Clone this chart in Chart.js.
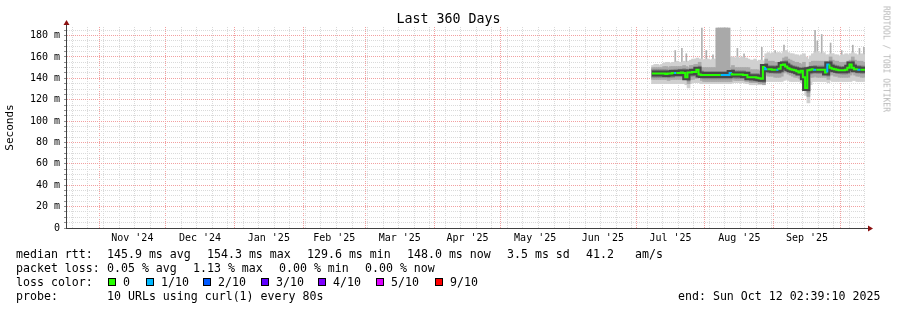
<!DOCTYPE html>
<html>
<head>
<meta charset="utf-8">
<script src="https://cdn.jsdelivr.net/npm/chart.js@4.4.1/dist/chart.umd.min.js"></script>
<style>
  body { margin: 0; background: #fff; }
  #wrap { position: relative; width: 897px; height: 310px; font-family: 'DejaVu Sans Mono', monospace; color: #000; overflow: hidden; }
  #wrap canvas { position: absolute; left: 0; top: 0; }
  .t { position: absolute; white-space: pre; font-size: 11.6px; line-height: 14px; }
  .sq { position: absolute; width: 8px; height: 8px; box-sizing: border-box; border: 1px solid #000; }
  #title { position: absolute; left: 0; width: 897px; top: 11px; text-align: center; font-size: 13.3px; line-height: 16px; }
  #mark { position: absolute; left: 886px; top: 59px; font-size: 8px; line-height: 9px; color: #b8b8b8; white-space: pre; transform: translate(-50%, -50%) rotate(90deg); }
</style>
</head>
<body>
<div id="wrap">
  <canvas id="myChart" width="897" height="310"></canvas>
  <div id="title">Last 360 Days</div>
  <div id="mark">RRDTOOL / TOBI OETIKER</div>
  <div id="footer"></div>
</div>
<script>
// graph window: 360 days ending Sun Oct 12 02:39:10 2025
const startTime = Date.UTC( 2024, 9, 17, 2, 39, 10 )
const totalDays = 360

// x axis tick labels (placed mid month) and month starts (red grid)
const monthLabels = [ "Nov '24", "Dec '24", "Jan '25", "Feb '25", "Mar '25", "Apr '25", "May '25", "Jun '25", "Jul '25", "Aug '25", "Sep '25" ]
const monthStarts = [ '2024-11-01', '2024-12-01', '2025-01-01', '2025-02-01', '2025-03-01', '2025-04-01', '2025-05-01', '2025-06-01', '2025-07-01', '2025-08-01', '2025-09-01', '2025-10-01' ]
const firstWeekLine = '2024-10-20'

// data, one value per day starting at day 264 of the window
const firstDay = 264
const median = [
  144.5, 144.5, 144.5, 144.5, 144.5, 144.5, 144.5, 144, 144.5, 144.5,
  145, 145, 145, 145, 145.5, 145, 141, 145.5, 145.5, 146,
  146, 148, 143.5, 143, 143, 143, 143, 143, 143, 143,
  143, 143, 143, 143, 143, 143, 145, 143.5, 143.5, 143.5,
  143.5, 143.5, 143, 143, 141, 141, 141, 141, 140.5, 140,
  139.5, 150.5, 148.5, 148.5, 148.5, 148, 148, 148, 149, 152.5,
  153, 151, 149.5, 148.5, 148, 147.5, 146.5, 145.5, 147, 141,
  131, 147.5, 148, 148.5, 148, 148, 148, 148, 148, 145.5,
  153, 150, 149, 148.5, 148, 147.5, 147.5, 147.5, 148, 150,
  153, 150, 148.5, 148.5, 148, 148
]
// packet loss per day, in tenths (0 = none, 1 = 1/10)
const loss = [
  0, 0, 0, 0, 0, 0, 0, 0, 0, 0,
  1, 0, 0, 0, 0, 0, 0, 0, 0, 0,
  0, 0, 0, 0, 0, 0, 0, 0, 0, 0,
  0, 1, 1, 1, 1, 1, 0, 0, 0, 0,
  0, 0, 0, 0, 0, 0, 0, 0, 0, 0,
  0, 1, 0, 0, 0, 0, 1, 0, 0, 0,
  0, 0, 0, 0, 0, 0, 0, 0, 0, 0,
  0, 0, 0, 1, 0, 0, 0, 0, 0, 1,
  0, 0, 0, 0, 0, 0, 0, 0, 0, 0,
  0, 0, 0, 1, 0, 0
]
// outer smoke (lightest)
const smokeHigh1 = [
  152, 153, 153, 152, 153, 154, 155, 155, 154, 155,
  155, 156, 155, 155, 156, 155, 156, 157, 158, 158,
  159, 158, 158, 157, 158, 158, 157, 158, 158, 187,
  187, 187, 187, 187, 187, 160, 160, 159, 160, 159,
  160, 159, 159, 158, 157, 157, 158, 156, 157, 157,
  156, 163, 164, 163, 164, 163, 164, 164, 163, 165,
  166, 164, 163, 163, 162, 162, 161, 162, 163, 160,
  158, 161, 163, 164, 165, 164, 163, 164, 162, 162,
  163, 163, 162, 162, 161, 162, 162, 163, 162, 163,
  164, 163, 162, 162, 163, 162
]
const smokeLow1 = [
  135, 135, 135, 135, 135, 135, 135, 135, 135, 135,
  135, 135, 135, 135, 135, 134, 131, 135, 136, 136,
  136, 136, 135, 135, 135, 135, 135, 135, 135, 135,
  135, 135, 135, 135, 135, 135, 136, 136, 136, 136,
  136, 136, 135, 135, 134, 134, 134, 134, 134, 134,
  134, 137, 137, 137, 137, 137, 137, 137, 137, 138,
  139, 138, 137, 137, 137, 137, 137, 136, 137, 124,
  117, 134, 137, 137, 137, 137, 137, 137, 137, 136,
  138, 137, 137, 137, 137, 137, 137, 137, 137, 137,
  138, 138, 137, 137, 137, 137
]
// middle smoke
const smokeHigh2 = [
  150, 150, 150, 150, 150, 151, 151, 150, 151, 151,
  151, 151, 151, 151, 152, 151, 150, 152, 152, 153,
  153, 155, 150, 150, 150, 150, 150, 150, 150, 187,
  187, 187, 187, 187, 187, 150, 152, 150, 150, 150,
  150, 150, 150, 150, 148, 148, 148, 148, 147, 147,
  146, 158, 156, 156, 156, 155, 155, 155, 156, 159,
  160, 158, 157, 156, 155, 155, 154, 153, 155, 150,
  145, 155, 156, 156, 156, 156, 156, 156, 156, 155,
  160, 157, 156, 156, 155, 155, 155, 155, 156, 157,
  160, 157, 156, 156, 156, 155
]
const smokeLow2 = [
  139, 139, 139, 139, 139, 139, 139, 138, 139, 139,
  139, 139, 139, 139, 139, 139, 135, 139, 139, 140,
  140, 141, 138, 137, 137, 137, 137, 137, 137, 137,
  137, 137, 137, 137, 137, 137, 139, 138, 138, 138,
  138, 138, 137, 137, 136, 136, 136, 136, 135, 135,
  134, 143, 142, 142, 142, 141, 141, 141, 142, 145,
  146, 144, 143, 142, 141, 141, 140, 139, 140, 130,
  123, 141, 141, 142, 141, 141, 141, 141, 141, 139,
  145, 143, 142, 142, 141, 141, 141, 141, 141, 143,
  145, 143, 142, 142, 141, 141
]
// inner smoke
const smokeHigh3 = [
  148, 148, 148, 148, 148, 148, 148, 147.5, 148, 148,
  148.5, 148.5, 148.5, 148.5, 149, 148.5, 145, 149, 149, 149.5,
  149.5, 151.5, 147, 146.5, 146.5, 146.5, 146.5, 146.5, 146.5, 146.5,
  146.5, 146.5, 146.5, 146.5, 146.5, 146.5, 148.5, 147, 147, 147,
  147, 147, 146.5, 146.5, 144.5, 144.5, 144.5, 144.5, 144, 143.5,
  143, 154, 152, 152, 152, 151.5, 151.5, 151.5, 152.5, 156,
  156.5, 154.5, 153, 152, 151.5, 151, 150, 149, 150.5, 146,
  137, 151, 151.5, 152, 151.5, 151.5, 151.5, 151.5, 151.5, 149,
  156.5, 153.5, 152.5, 152, 151.5, 151, 151, 151, 151.5, 153.5,
  156.5, 153.5, 152, 152, 151.5, 151.5
]
const smokeLow3 = [
  141, 141, 141, 141, 141, 141, 141, 140.5, 141, 141,
  141.5, 141.5, 141.5, 141.5, 142, 141.5, 137.5, 142, 142, 142.5,
  142.5, 144.5, 140, 139.5, 139.5, 139.5, 139.5, 139.5, 139.5, 139.5,
  139.5, 139.5, 139.5, 139.5, 139.5, 139.5, 141.5, 140, 140, 140,
  140, 140, 139.5, 139.5, 137.5, 137.5, 137.5, 137.5, 137, 136.5,
  136, 147, 145, 145, 145, 144.5, 144.5, 144.5, 145.5, 149,
  149.5, 147.5, 146, 145, 144.5, 144, 143, 142, 143.5, 135,
  127, 144, 144.5, 145, 144.5, 144.5, 144.5, 144.5, 144.5, 142,
  149.5, 146.5, 145.5, 145, 144.5, 144, 144, 144, 144.5, 146.5,
  149.5, 146.5, 145, 145, 144.5, 144.5
]
// single slow pings above the smoke
const peakDays = [ 274, 277, 279, 286, 288, 291, 302, 305, 313, 319, 323, 337, 338, 340, 344, 349, 354, 357, 359 ]
const peakValues = [ 166, 168, 163, 187, 166, 162, 168, 163, 169, 166, 171, 185, 175, 181, 173, 166, 171, 168, 169 ]

const lossColors = [ '#26ff00', '#00b8ff', '#0059ff', '#5e00ff', '#7e00ff', '#dd00ff', '#ff0000' ]
const lossLabels = [ '0', '1/10', '2/10', '3/10', '4/10', '5/10', '9/10' ]

const RED = '#f2a0a0'
const GRAY = '#dadada'
const FONT = 'DejaVu Sans Mono'

const dayOf = ( s ) => ( Date.parse( s + 'T00:00:00Z' ) - startTime ) / 86400000

// x ticks: week lines, month lines, mid month labels
const xTicks = []
for ( let d = dayOf( firstWeekLine ); d < totalDays; d += 7 ) xTicks.push( { value: d, kind: 'week' } )
monthStarts.forEach( ( s, i ) => {
  const d = dayOf( s )
  xTicks.push( { value: d, kind: 'month' } )
  if ( i < monthLabels.length ) {
    const mid = ( d + dayOf( monthStarts[i + 1] ) ) / 2
    xTicks.push( { value: mid, kind: 'label', label: monthLabels[i] } )
  }
} )
xTicks.sort( ( a, b ) => a.value - b.value )

const band = ( lows, highs ) => lows.map( ( lo, i ) => ( { x: firstDay + i + 0.5, y: [ lo, highs[i] ] } ) )
const stepLine = median.map( ( v, i ) => ( { x: firstDay + i, y: v } ) )
stepLine.push( { x: firstDay + median.length, y: median[median.length - 1] } )
const peaks = peakDays.map( ( d, i ) => ( { x: d + 0.5, y: [ smokeHigh1[d - firstDay], peakValues[i] ] } ) )

const smoke = ( data, color, order ) => ( {
  type: 'bar', data, backgroundColor: color, borderWidth: 0,
  grouped: false, barThickness: 3, order
} )

// axis arrows like rrdtool
const arrows = {
  id: 'arrows',
  afterDraw( chart ) {
    const { ctx, chartArea: a } = chart
    ctx.save()
    ctx.strokeStyle = '#404040'
    ctx.lineWidth = 1
    ctx.beginPath()
    ctx.moveTo( a.left + 0.5, a.top ); ctx.lineTo( a.left + 0.5, a.top - 4 )
    ctx.moveTo( a.right, a.bottom + 0.5 ); ctx.lineTo( a.right + 5, a.bottom + 0.5 )
    ctx.stroke()
    ctx.fillStyle = '#8b1010'
    ctx.beginPath()
    ctx.moveTo( a.left - 2.5, a.top - 2 ); ctx.lineTo( a.left + 3.5, a.top - 2 ); ctx.lineTo( a.left + 0.5, a.top - 7 )
    ctx.closePath(); ctx.fill()
    ctx.beginPath()
    ctx.moveTo( a.right + 3, a.bottom - 2.5 ); ctx.lineTo( a.right + 3, a.bottom + 3.5 ); ctx.lineTo( a.right + 8, a.bottom + 0.5 )
    ctx.closePath(); ctx.fill()
    ctx.restore()
  }
}

new Chart( document.getElementById( 'myChart' ), {
  type: 'bar',
  data: {
    datasets: [
      {
        type: 'line', data: stepLine, stepped: 'after', pointRadius: 0, borderWidth: 2,
        borderColor: lossColors[0],
        segment: { borderColor: ( c ) => lossColors[loss[Math.min( c.p0DataIndex, loss.length - 1 )]] },
        order: 0
      },
      { type: 'line', data: stepLine, stepped: 'after', pointRadius: 0, borderWidth: 6, borderColor: '#484848', order: 1 },
      smoke( band( smokeLow3, smokeHigh3 ), '#868686', 2 ),
      smoke( band( smokeLow2, smokeHigh2 ), '#a9a9a9', 3 ),
      smoke( band( smokeLow1, smokeHigh1 ), '#d0d0d0', 4 ),
      { type: 'bar', data: peaks, backgroundColor: '#b0b0b0', borderWidth: 0, grouped: false, barThickness: 1, order: 5 }
    ]
  },
  options: {
    responsive: false,
    animation: false,
    layout: { padding: { top: 27, right: 32, bottom: 0, left: 0 } },
    plugins: { legend: { display: false }, tooltip: { enabled: false } },
    scales: {
      x: {
        type: 'linear', min: 0, max: totalDays, offset: false,
        afterFit: ( s ) => { s.height = 82 },
        afterBuildTicks: ( s ) => { s.ticks = xTicks.map( ( t ) => ( { value: t.value } ) ) },
        grid: {
          offset: false, drawTicks: false,
          color: ( c ) => {
            const t = xTicks[c.index]
            if ( !t || t.kind === 'label' ) return 'rgba(0,0,0,0)'
            return t.kind === 'month' ? RED : GRAY
          }
        },
        border: { color: '#404040', dash: [ 1, 1 ] },
        ticks: {
          autoSkip: false, maxRotation: 0, minRotation: 0, padding: 4,
          color: '#000', font: { family: FONT, size: 10 },
          callback: ( v, i ) => ( xTicks[i] && xTicks[i].label ) || ''
        }
      },
      y: {
        min: 0, max: 188,
        afterFit: ( s ) => { s.width = 66 },
        afterBuildTicks: ( s ) => {
          const t = []
          for ( let v = 0; v <= 185; v += 5 ) t.push( { value: v } )
          s.ticks = t
        },
        grid: {
          drawTicks: true, tickLength: 2, tickColor: '#909090',
          color: ( c ) => ( c.tick && c.tick.value % 20 === 0 ? RED : GRAY )
        },
        border: { color: '#404040', dash: [ 1, 1 ] },
        title: { display: true, text: 'Seconds', color: '#000', font: { family: FONT, size: 11 }, padding: { top: 4, bottom: 0 } },
        ticks: {
          autoSkip: false, padding: 4, color: '#000', font: { family: FONT, size: 10 },
          callback: ( v ) => ( v % 20 !== 0 ? '' : v === 0 ? '0' : v + ' m' )
        }
      }
    }
  },
  plugins: [ arrows ]
} )

// legend text under the graph
const footer = document.getElementById( 'footer' )
const addText = ( text, x, cy ) => {
  const el = document.createElement( 'div' )
  el.className = 't'
  el.textContent = text
  el.style.left = x + 'px'
  el.style.top = ( cy - 7 ) + 'px'
  footer.appendChild( el )
}
addText( 'median rtt:', 16, 254 )
addText( '145.9 ms avg', 107, 254 )
addText( '154.3 ms max', 207, 254 )
addText( '129.6 ms min', 307, 254 )
addText( '148.0 ms now', 407, 254 )
addText( '3.5 ms sd', 507, 254 )
addText( '41.2', 586, 254 )
addText( 'am/s', 635, 254 )
addText( 'packet loss:', 16, 268 )
addText( '0.05 % avg', 107, 268 )
addText( '1.13 % max', 193, 268 )
addText( '0.00 % min', 279, 268 )
addText( '0.00 % now', 365, 268 )
addText( 'loss color:', 16, 282 )
const swatchX = [ 108, 146, 203, 261, 318, 376, 435 ]
lossLabels.forEach( ( label, i ) => {
  const sq = document.createElement( 'div' )
  sq.className = 'sq'
  sq.style.left = swatchX[i] + 'px'
  sq.style.top = '278px'
  sq.style.background = lossColors[i]
  footer.appendChild( sq )
  addText( label, swatchX[i] + 15, 282 )
} )
addText( 'probe:', 16, 296 )
addText( '10 URLs using curl(1) every 80s', 107, 296 )
addText( 'end: Sun Oct 12 02:39:10 2025', 678, 296 )
</script>
</body>
</html>
